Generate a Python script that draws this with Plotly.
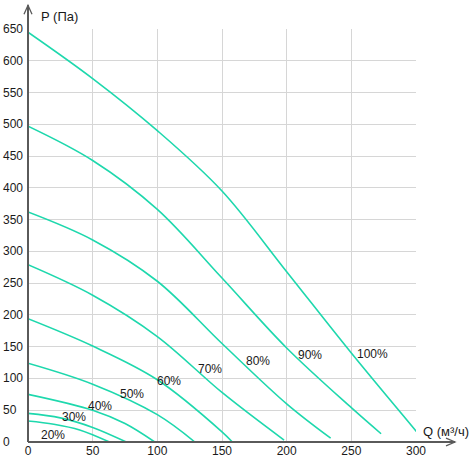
import plotly.graph_objects as go

# fan curves: flow Q (m3/h) vs pressure P (Pa)
speeds = ['20%', '30%', '40%', '50%', '60%', '70%', '80%', '90%', '100%']

q_20 = [0, 20, 40, 63]
p_20 = [33, 28, 19, 0]
q_30 = [0, 25, 50, 76]
p_30 = [45, 38, 23, 0]
q_40 = [0, 50, 75, 98]
p_40 = [75, 50, 29, 0]
q_50 = [0, 50, 100, 129]
p_50 = [124, 91, 43, 0]
q_60 = [0, 50, 100, 150, 158]
p_60 = [194, 151, 98, 16, 0]
q_70 = [0, 50, 100, 150, 198]
p_70 = [279, 231, 166, 78, 3]
q_80 = [0, 50, 100, 150, 200, 234]
p_80 = [362, 318, 253, 155, 60, 6]
q_90 = [0, 50, 100, 150, 200, 250, 273]
p_90 = [497, 443, 366, 258, 148, 54, 13]
q_100 = [0, 50, 100, 150, 200, 250, 301]
p_100 = [645, 572, 490, 395, 268, 140, 15]

curves_q = [q_20, q_30, q_40, q_50, q_60, q_70, q_80, q_90, q_100]
curves_p = [p_20, p_30, p_40, p_50, p_60, p_70, p_80, p_90, p_100]

# where the % labels sit
label_q = [19.6, 35.7, 56, 80.4, 109.3, 140.5, 177.8, 218, 266.4]
label_p = [10.8, 40, 56, 76, 96, 114.7, 128, 137.5, 139]

x_ticks = [0, 50, 100, 150, 200, 250, 300]
y_ticks = list(range(0, 651, 50))

# plot box in pixels
L, T, W, H = 28, 29, 388, 419
BOT = T + H


def px(x):
    return (x - L) / W


def py(y):
    return (BOT - y) / H


line_col = '#1ed8ad'
axis_col = '#5a5a5a'
text_col = '#1a1a1a'
font_name = 'Liberation Sans, Arial, sans-serif'

fig = go.Figure()

for q, p in zip(curves_q, curves_p):
    fig.add_trace(go.Scatter(
        x=q, y=p, mode='lines',
        line=dict(color=line_col, width=1.6, shape='spline', smoothing=1.0),
        hoverinfo='skip', showlegend=False,
    ))

annotations = []
for name, q, p in zip(speeds, label_q, label_p):
    annotations.append(dict(x=q, y=p, xref='x', yref='y', text=name,
                            showarrow=False,
                            font=dict(size=12, color=text_col)))

# y tick labels are left aligned in the original
for v in y_ticks:
    annotations.append(dict(x=px(0.5), y=v, xref='paper', yref='y', text=str(v),
                            xanchor='left', yanchor='middle', showarrow=False,
                            font=dict(size=12, color=text_col)))

annotations.append(dict(x=px(39), y=py(16), xref='paper', yref='paper',
                        text='P (Па)', xanchor='left', yanchor='middle',
                        showarrow=False, font=dict(size=13, color=text_col)))
annotations.append(dict(x=px(421), y=py(437), xref='paper', yref='paper',
                        text='Q (м³/ч)', xanchor='left', yanchor='middle',
                        showarrow=False, font=dict(size=13, color=text_col)))

# axis lines with open arrow heads
shapes = [
    dict(type='line', xref='paper', yref='paper', x0=px(28), y0=py(448),
         x1=px(28), y1=py(5), line=dict(color=axis_col, width=2)),
    dict(type='path', xref='paper', yref='paper',
         path=f'M {px(24)},{py(14)} L {px(28)},{py(5)} L {px(32)},{py(14)}',
         line=dict(color=axis_col, width=1.3)),
    dict(type='line', xref='paper', yref='paper', x0=px(28), y0=py(448),
         x1=px(455), y1=py(448), line=dict(color=axis_col, width=2)),
    dict(type='path', xref='paper', yref='paper',
         path=f'M {px(446)},{py(444)} L {px(455)},{py(448)} L {px(446)},{py(452)}',
         line=dict(color=axis_col, width=1.3)),
]

fig.update_layout(
    width=472, height=470,
    margin=dict(l=L, r=472 - L - W, t=T, b=470 - BOT, pad=0),
    paper_bgcolor='white', plot_bgcolor='white',
    font=dict(family=font_name, color=text_col),
    showlegend=False,
    annotations=annotations,
    shapes=shapes,
    xaxis=dict(range=[0, 300], tickvals=x_ticks, showgrid=True,
               gridcolor='#d6d6d6', gridwidth=1.2, zeroline=False,
               showline=False, ticks='', tickfont=dict(size=12),
               fixedrange=True),
    yaxis=dict(range=[0, 650], tickvals=y_ticks, showgrid=True,
               gridcolor='#d6d6d6', gridwidth=1.2, zeroline=False,
               showline=False, ticks='', showticklabels=False,
               fixedrange=True),
)

# the page's default body margin would shift the chart by 8px
fig.write_html('out.html', config={'displayModeBar': False},
               post_script="document.body.style.margin='0';")
